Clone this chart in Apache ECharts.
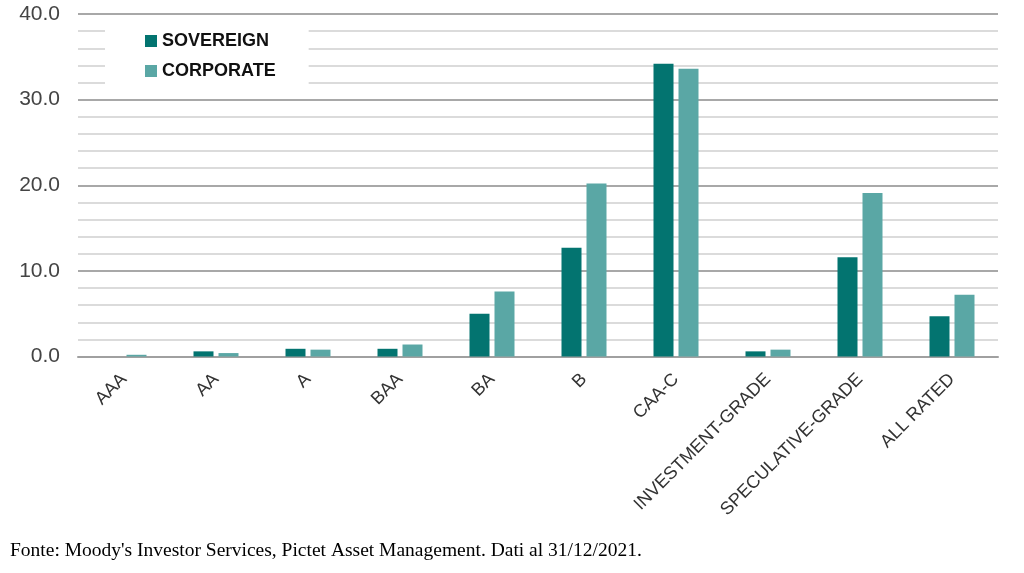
<!DOCTYPE html>
<html>
<head>
<meta charset="utf-8">
<script src="https://cdn.jsdelivr.net/npm/echarts@6/dist/echarts.min.js"></script>
<style>
html,body{margin:0;padding:0;background:#fff;}
#c{width:1024px;height:573px;}
</style>
</head>
<body>
<div id="c"></div>
<script>
const categories = ['AAA','AA','A','BAA','BA','B','CAA-C','INVESTMENT-GRADE','SPECULATIVE-GRADE','ALL RATED'];
const sovereign = [0, 0.6, 0.9, 0.9, 5.0, 12.7, 34.2, 0.6, 11.6, 4.7];
const corporate = [0.2, 0.4, 0.8, 1.4, 7.6, 20.2, 33.6, 0.8, 19.1, 7.2];
const seriesNames = ['SOVEREIGN','CORPORATE'];
const footer = "Fonte: Moody's Investor Services, Pictet Asset Management. Dati al 31/12/2021.";

const chart = echarts.init(document.getElementById('c'));
chart.setOption({
  animation: false,
  backgroundColor: '#fff',
  grid: {left: 78, right: 26, top: 14, bottom: 216.5, containLabel: false},
  legend: {
    left: 105, top: 22, orient: 'vertical',
    backgroundColor: '#fff',
    padding: [10, 33, 13, 40],
    itemWidth: 12, itemHeight: 12, itemGap: 12,
    icon: 'rect',
    textStyle: {fontFamily: 'Liberation Sans', fontWeight: 'bold', fontSize: 18, color: '#111'},
    data: seriesNames
  },
  graphic: [{
    type: 'text', left: 10, top: 541,
    style: {text: footer, font: '19.5px "Liberation Serif"', fill: '#000'}
  }],
  xAxis: {
    type: 'category', data: categories,
    axisTick: {show: false},
    axisLine: {lineStyle: {color: '#a0a0a0', width: 2}},
    axisLabel: {rotate: 45, margin: 20, fontFamily: 'Liberation Sans', fontSize: 18, color: '#333', interval: 0}
  },
  yAxis: {
    type: 'value', min: 0, max: 40, interval: 10,
    axisLine: {show: false}, axisTick: {show: false},
    axisLabel: {formatter: v => v.toFixed(1), margin: 18, fontFamily: 'Liberation Sans', fontSize: 21, color: '#444'},
    splitLine: {lineStyle: {color: '#a8a8a8', width: 2}},
    minorTick: {show: false, splitNumber: 5},
    minorSplitLine: {show: true, lineStyle: {color: '#cfcfcf', width: 1.5}}
  },
  series: [
    {name: seriesNames[0], type: 'bar', data: sovereign, barWidth: 20, barGap: '25%', itemStyle: {color: '#037470'}},
    {name: seriesNames[1], type: 'bar', data: corporate, barWidth: 20, itemStyle: {color: '#5aa7a5'}}
  ]
});
</script>
</body>
</html>
